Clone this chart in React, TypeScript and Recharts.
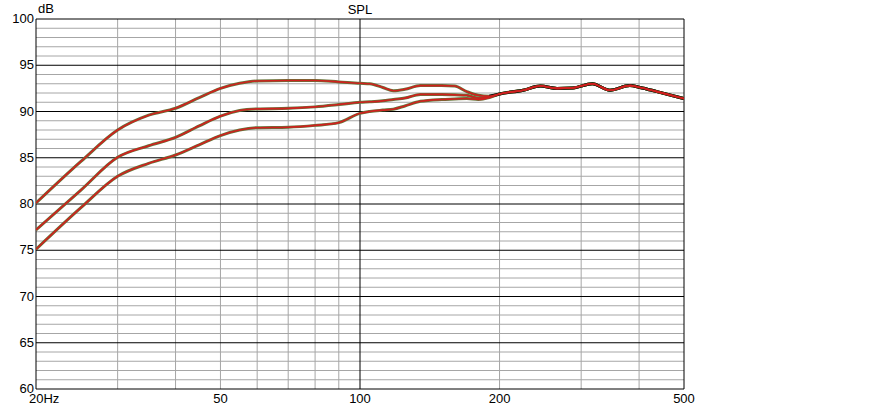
import { LineChart, Line, XAxis, YAxis, ReferenceLine } from 'recharts';

// frequency points (Hz) shared by all curves
const FREQS = [20, 25, 30, 35, 40, 45, 50, 55, 60, 70, 80, 90, 100, 105, 112, 118, 125, 135, 150, 160, 170, 180, 190, 200, 225, 245, 266, 288, 317, 346, 382, 402, 437, 500];

// SPL curves in dB
const CURVE_TOP = [80.1, 84.6, 88.0, 89.6, 90.35, 91.5, 92.5, 93.05, 93.3, 93.35, 93.35, 93.2, 93.05, 93.0, 92.6, 92.25, 92.4, 92.8, 92.8, 92.75, 92.15, 91.75, 91.65, 91.9, 92.3, 92.75, 92.5, 92.55, 93.0, 92.3, 92.8, 92.6, 92.15, 91.4];
const CURVE_MID = [77.2, 81.5, 85.05, 86.3, 87.2, 88.45, 89.5, 90.1, 90.28, 90.34, 90.5, 90.75, 91.0, 91.05, 91.15, 91.3, 91.45, 91.85, 91.85, 91.8, 91.75, 91.45, 91.6, 91.9, 92.3, 92.75, 92.5, 92.55, 93.0, 92.3, 92.8, 92.6, 92.15, 91.4];
const CURVE_LOW = [75.1, 79.6, 83.0, 84.4, 85.3, 86.4, 87.4, 88.0, 88.25, 88.3, 88.5, 88.8, 89.8, 90.0, 90.15, 90.25, 90.6, 91.1, 91.3, 91.35, 91.4, 91.3, 91.5, 91.9, 92.3, 92.75, 92.5, 92.55, 93.0, 92.3, 92.8, 92.6, 92.15, 91.4];
// where the three curves coincide
const SHARED_FROM = 190;

const X_TICKS = [20, 50, 100, 200, 500];
const X_MINOR = [30, 40, 50, 60, 70, 80, 90, 200, 300, 400];
const Y_TICKS = [60, 65, 70, 75, 80, 85, 90, 95, 100];
const Y_MINOR = Array.from({ length: 39 }, (_, i) => 61 + i).filter(v => v % 5 !== 0);

const data = FREQS.map((f, i) => ({
  f,
  top: CURVE_TOP[i],
  mid: CURVE_MID[i],
  low: CURVE_LOW[i],
  shared: f >= SHARED_FROM ? CURVE_TOP[i] : null,
}));

const FONT = '"Liberation Sans", Arial, sans-serif';
const GREEN = '#66743a';
const RED = '#d0201e';

function XTick({ x, y, payload }: any) {
  const label = payload.value === 20 ? '20Hz' : String(payload.value);
  return (
    <text
      x={payload.value === 20 ? x - 7 : x}
      y={y + 14}
      textAnchor={payload.value === 20 ? 'start' : 'middle'}
      fontSize={13}
      fontFamily={FONT}
      fill="#000"
    >
      {label}
    </text>
  );
}

function YTick({ x, y, payload }: any) {
  return (
    <text x={x - 2} y={y + 4} textAnchor="end" fontSize={13} fontFamily={FONT} fill="#000">
      {payload.value}
    </text>
  );
}

export default function App() {
  return (
    <div style={{ position: 'absolute', left: 0, top: 0, width: 893, height: 405, background: '#fff' }}>
      <div style={{ position: 'absolute', left: 38, top: 1, fontSize: 13, fontFamily: FONT }}>dB</div>
      <div style={{ position: 'absolute', left: 340, width: 40, textAlign: 'center', top: 2, fontSize: 13, fontFamily: FONT }}>SPL</div>
      <LineChart width={893} height={405} data={data} margin={{ top: 19, right: 209, bottom: 0, left: 0 }}>
        <XAxis
          dataKey="f"
          type="number"
          scale="log"
          domain={[20, 500]}
          ticks={X_TICKS}
          allowDataOverflow
          axisLine={false}
          tickLine={false}
          tickSize={0}
          tickMargin={0}
          height={16}
          tick={<XTick />}
          interval={0}
        />
        <YAxis
          type="number"
          domain={[60, 100]}
          ticks={Y_TICKS}
          width={36}
          axisLine={false}
          tickLine={false}
          tickSize={0}
          tickMargin={0}
          tick={<YTick />}
          interval={0}
        />
        {Y_MINOR.map(v => (
          <ReferenceLine key={`ym-${v}`} y={v} stroke="#a6a6a6" strokeWidth={1} />
        ))}
        {X_MINOR.map(v => (
          <ReferenceLine key={`xm-${v}`} x={v} stroke="#a6a6a6" strokeWidth={1} />
        ))}
        {Y_TICKS.map(v => (
          <ReferenceLine key={`yM-${v}`} y={v} stroke="#000" strokeWidth={1} />
        ))}
        <ReferenceLine x={20} stroke="#000" strokeWidth={1} />
        <ReferenceLine x={100} stroke="#000" strokeWidth={1} />
        <ReferenceLine x={500} stroke="#000" strokeWidth={1} />

        <Line dataKey="top" type="monotone" stroke={GREEN} strokeWidth={3} dot={false} isAnimationActive={false} />
        <Line dataKey="mid" type="monotone" stroke={GREEN} strokeWidth={3} dot={false} isAnimationActive={false} />
        <Line dataKey="low" type="monotone" stroke={GREEN} strokeWidth={3} dot={false} isAnimationActive={false} />
        <Line dataKey="shared" type="monotone" stroke="#1a1a10" strokeWidth={3} dot={false} isAnimationActive={false} />
        <Line dataKey="top" type="monotone" stroke={RED} strokeWidth={1.6} dot={false} isAnimationActive={false} />
        <Line dataKey="mid" type="monotone" stroke={RED} strokeWidth={1.6} dot={false} isAnimationActive={false} />
        <Line dataKey="low" type="monotone" stroke={RED} strokeWidth={1.6} dot={false} isAnimationActive={false} />
      </LineChart>
    </div>
  );
}
